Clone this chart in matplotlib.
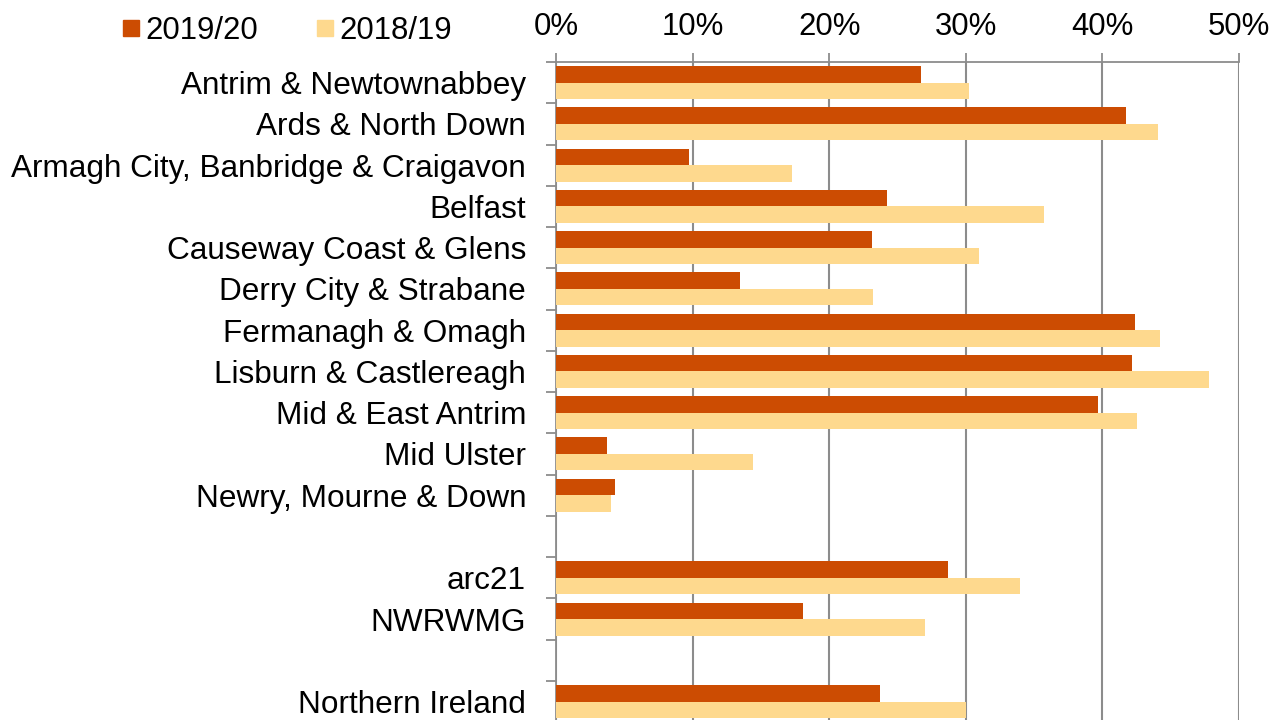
import matplotlib
matplotlib.use("Agg")
import matplotlib.pyplot as plt
import numpy as np
from matplotlib.lines import Line2D
from matplotlib.ticker import FuncFormatter, FixedLocator

categories = ["Antrim & Newtownabbey", "Ards & North Down", "Armagh City, Banbridge & Craigavon",
              "Belfast", "Causeway Coast & Glens", "Derry City & Strabane", "Fermanagh & Omagh",
              "Lisburn & Castlereagh", "Mid & East Antrim", "Mid Ulster", "Newry, Mourne & Down",
              "", "arc21", "NWRWMG", "", "Northern Ireland"]
v2019_20 = [26.7, 41.7, 9.7, 24.2, 23.1, 13.5, 42.4, 42.2, 39.7, 3.7, 4.3,
            np.nan, 28.7, 18.1, np.nan, 23.7]
v2018_19 = [30.2, 44.1, 17.3, 35.7, 31.0, 23.2, 44.2, 47.8, 42.5, 14.4, 4.0,
            np.nan, 34.0, 27.0, np.nan, 30.0]
series_names = ["2019/20", "2018/19"]
xticks = [0, 10, 20, 30, 40, 50]

c1 = "#CC4C02"
c2 = "#FED98E"
grey = "#8C8C8C"

plt.rcParams['font.family'] = ['Liberation Sans', 'DejaVu Sans']
fs = 22.4
fsy = 22.7

fig = plt.figure(figsize=(12.85, 7.2), dpi=100)
ax = fig.add_axes([556/1285, -0.003, 683/1285, 1 - 62/720 + 0.003])

y = np.arange(len(categories))
h = 0.4
ax.barh(y - h/2, v2019_20, height=h, color=c1, zorder=3)
ax.barh(y + h/2, v2018_19, height=h, color=c2, zorder=3)

ax.set_xlim(0, 50)
ax.set_ylim(len(categories) - 0.5, -0.5)
ax.xaxis.set_major_locator(FixedLocator(xticks))
ax.xaxis.set_major_formatter(FuncFormatter(lambda v, p: f"{int(v)}%"))
ax.xaxis.tick_top()
ax.tick_params(axis='x', which='major', direction='out', length=6.5, width=1.3,
               color=grey, labelsize=fs, pad=8)
ax.grid(axis='x', color=grey, linewidth=1.5, zorder=0)

ax.set_yticks(y)
ax.set_yticklabels(categories)
ax.set_yticks(np.arange(-0.5, len(categories), 1), minor=True)
ax.tick_params(axis='y', which='major', length=0, labelsize=fsy, pad=21.6)
ax.tick_params(axis='y', which='minor', direction='out', length=7, width=1.3, color=grey)

for s in ['right', 'bottom']:
    ax.spines[s].set_visible(False)
for s in ['top', 'left']:
    ax.spines[s].set_color(grey)
    ax.spines[s].set_linewidth(1.3)

handles = [Line2D([], [], marker='s', linestyle='none', markersize=11.5, color=c1),
           Line2D([], [], marker='s', linestyle='none', markersize=11.5, color=c2)]
fig.legend(handles, series_names, loc='center left', bbox_to_anchor=(119.5/1285, 1 - 31/720),
           ncol=2, frameon=False, fontsize=fs, handlelength=0.75, handletextpad=0.08,
           columnspacing=1.78, borderpad=0, borderaxespad=0)

fig.savefig("out.png", dpi=100)
